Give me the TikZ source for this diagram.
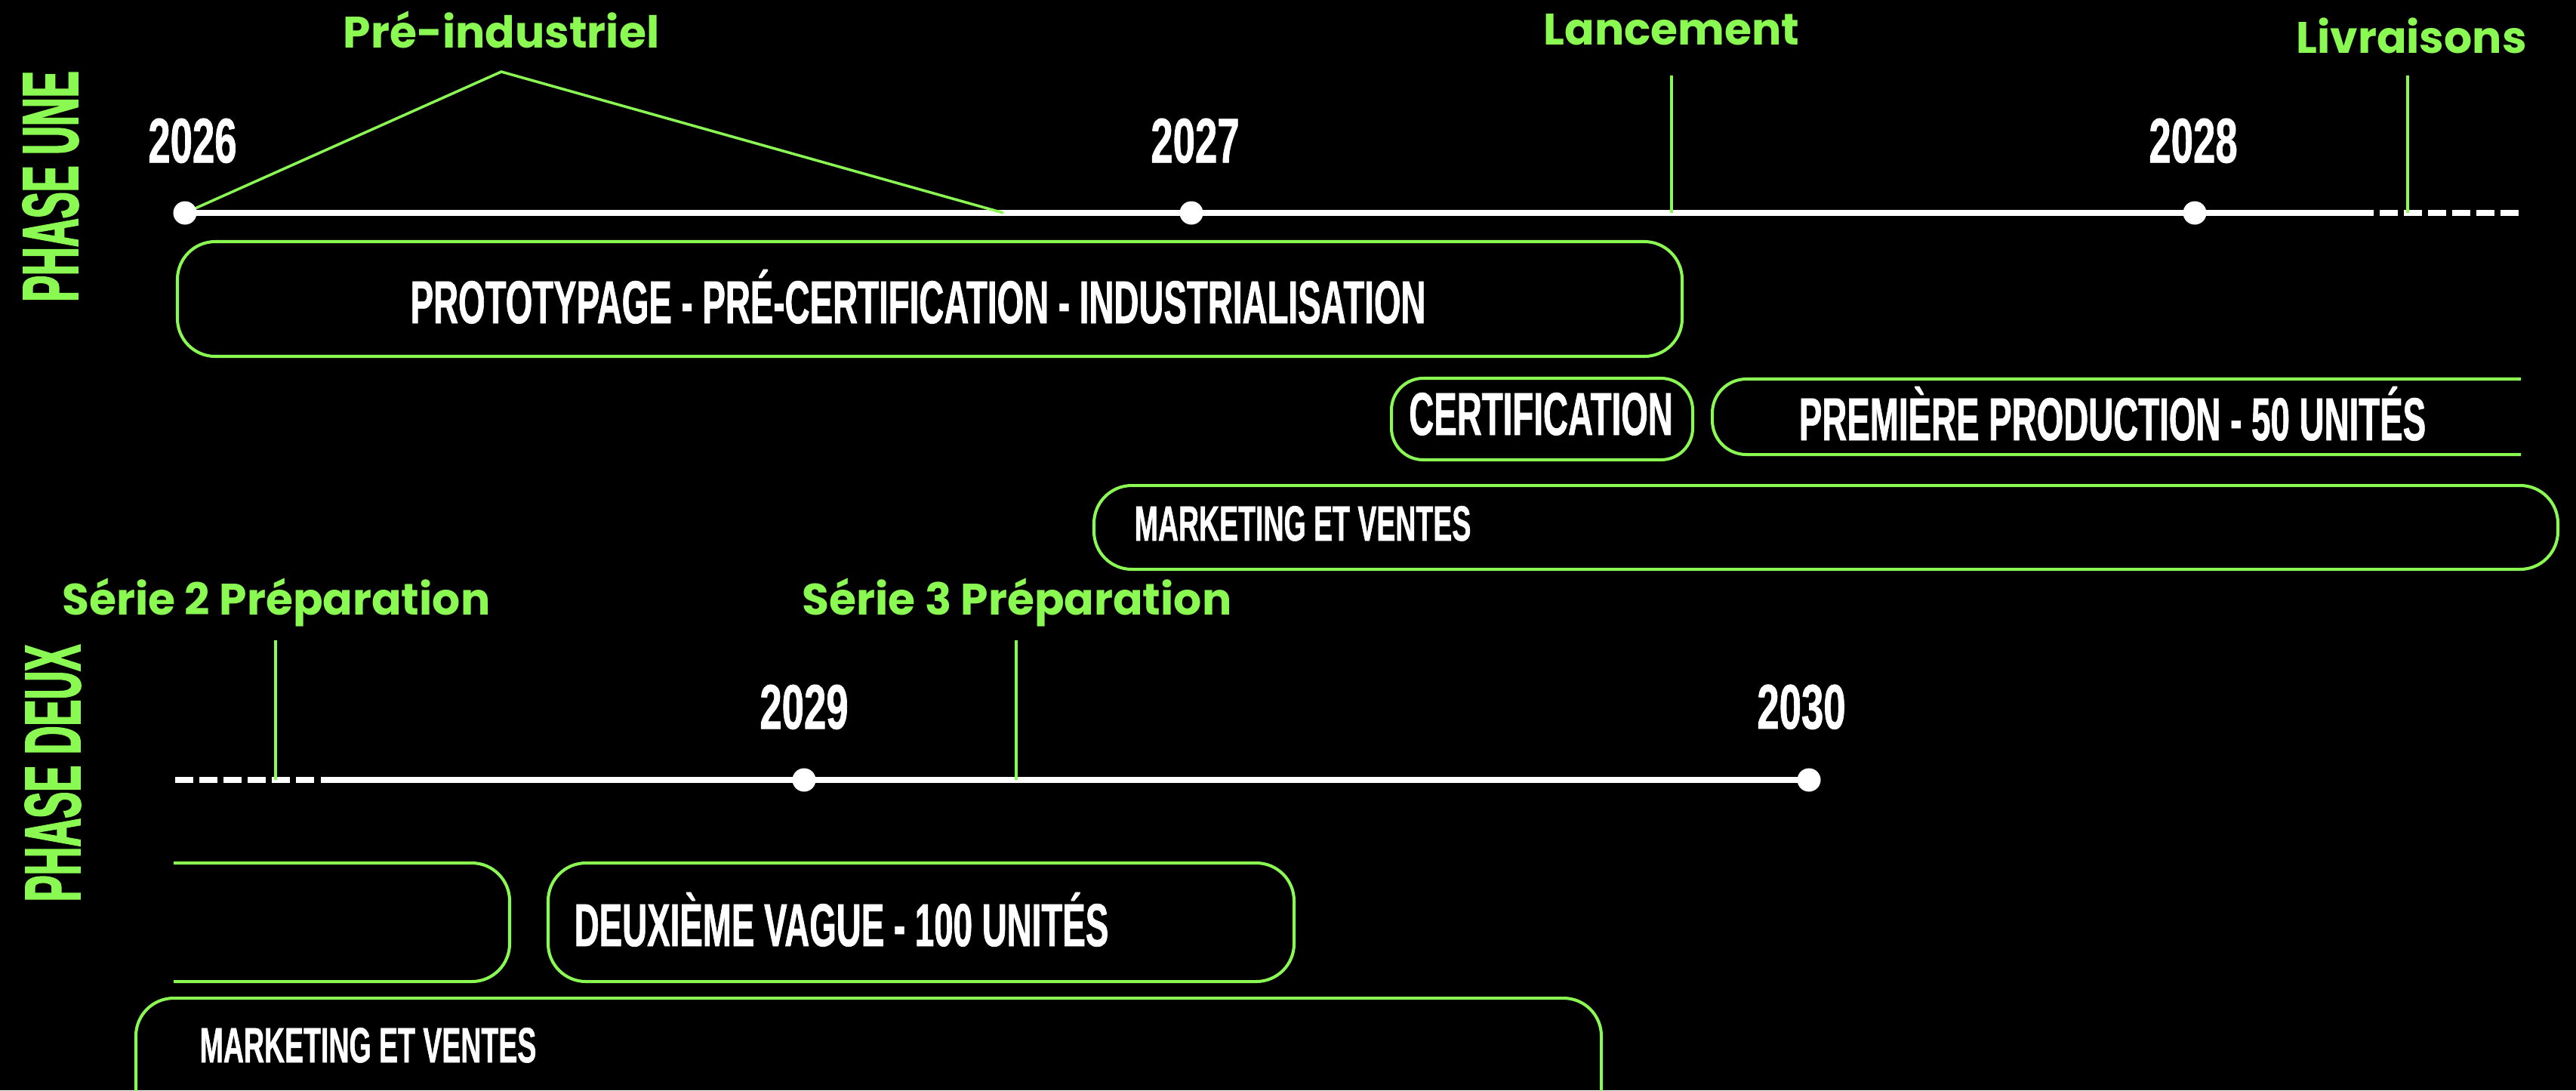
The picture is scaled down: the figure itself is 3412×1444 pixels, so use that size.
\documentclass[tikz,border=0pt]{standalone}
\usepackage{fontspec}
\usepackage{tikz}
\usetikzlibrary{positioning}
\newfontfamily\bebas[FakeStretch=0.57,FakeBold=0.8]{Liberation Sans}
\newfontfamily\bebasyear[FakeStretch=0.63,FakeBold=0.8]{Liberation Sans}
\newfontfamily\bebasphase[FakeStretch=0.5,FakeBold=1.6]{Liberation Sans}
\newfontfamily\poppins{Poppins}
\definecolor{lime}{RGB}{138,250,82}

\begin{document}
\begin{tikzpicture}[x=0.01cm, y=-0.01cm,
	axis/.style={line width=2.3pt, white},
	axisdash/.style={line width=2.3pt, white, dash pattern=on 6.83pt off 2.28pt},
	tick/.style={line width=1pt, lime},
	stage/.style={line width=1.15pt, lime, rounded corners=0.5cm},
	yeardot/.style={circle, fill=white, inner sep=0pt, minimum size=0.31cm},
	yearlbl/.style={inner sep=0pt, text=white, font=\bebasyear\bfseries\fontsize{23.8}{26}\selectfont},
	stagelbl/.style={anchor=base, inner sep=0pt, text=white, font=\bebas\bfseries\fontsize{22.8}{24}\selectfont},
	salelbl/.style={anchor=base west, inner sep=0pt, text=white, font=\bebas\bfseries\fontsize{18.7}{20}\selectfont},
	milestone/.style={anchor=base, inner sep=0pt, text=lime, font=\poppins\bfseries\fontsize{16.6}{19}\selectfont},
	phase/.style={rotate=90, inner sep=0pt, text=lime, font=\bebasphase\bfseries\fontsize{29.8}{32}\selectfont}]
	%%%%% START %%%%%
	
	\fill[black] (0,0) rectangle (3412,1444);
	\clip (0,0) rectangle (3412,1444);
	
	%%%%% PHASE UNE %%%%%
	\node[phase] (ph1) at (67,247) {PHASE UNE};
	
	\coordinate (y2026) at (245,282);
	\coordinate (y2027) at (1578,282);
	\coordinate (y2028) at (2907,282);
	\coordinate (p1end) at (3144,282);
	\coordinate (p1dash) at (3152,282);
	\coordinate (p1tip) at (3337,282);
	
	\draw[axis] (y2026) -- (y2027) -- (y2028) -- (p1end);
	\draw[axisdash] (p1dash) -- (p1tip);
	
	\node[milestone] (pre) at (664,63) {Pré-industriel};
	\coordinate (preapex) at (664,95);
	\coordinate (preend) at (1329,282);
	\draw[tick] (y2026) -- (preapex) -- (preend);
	
	\node[milestone] (lanc) at (2214,59) {Lancement};
	\coordinate (lanctop) at (2214,100);
	\draw[tick] (lanctop) -- (lanctop |- y2026);
	
	\node[milestone] (livr) at (3194,70) {Livraisons};
	\coordinate (livrtop) at (3189,100);
	\draw[tick] (livrtop) -- (livrtop |- y2026);
	
	\foreach \yr/\dx in {2026/10,2027/5,2028/-2}{
		\node[yeardot] (d\yr) at (y\yr) {};
		\node[yearlbl, above=0.49cm of d\yr, xshift=\dx*0.01cm] (l\yr) {\yr};
	}
	
	\draw[stage] (235,320) rectangle (2228,472);
	\node[stagelbl] (proto) at (1216,428) {PROTOTYPAGE - PRÉ-CERTIFICATION - INDUSTRIALISATION};
	
	\draw[stage, rounded corners=0.42cm] (1843,501) rectangle (2242,609);
	\node[stagelbl] (certif) at (2041,576) {CERTIFICATION};
	
	\draw[stage, rounded corners=0.45cm] (3339,502) -- (2268,502) -- (2268,602) -- (3339,602);
	\node[stagelbl] (prod1) at (2798,583) {PREMIÈRE PRODUCTION - 50 UNITÉS};
	
	\draw[stage] (1449,643) rectangle (3388,754);
	\node[salelbl] (sales1) at (1502,716) {MARKETING ET VENTES};
	
	%%%%% PHASE DEUX %%%%%
	\node[phase] (ph2) at (70,1024) {PHASE DEUX};
	
	\coordinate (p2dash) at (232,1033);
	\coordinate (p2gap) at (417,1033);
	\coordinate (p2start) at (425,1033);
	\coordinate (y2029) at (1065,1033);
	\coordinate (y2030) at (2396,1033);
	
	\draw[axisdash] (p2dash) -- (p2gap);
	\draw[axis] (p2start) -- (y2029) -- (y2030);
	
	\node[milestone] (serie2) at (366,814) {Série 2 Préparation};
	\coordinate (s2top) at (365,848);
	\draw[tick] (s2top) -- (s2top |- y2029);
	
	\node[milestone] (serie3) at (1347,814) {Série 3 Préparation};
	\coordinate (s3top) at (1346,848);
	\draw[tick] (s3top) -- (s3top |- y2029);
	
	\foreach \yr/\dx in {2029/0,2030/-10}{
		\node[yeardot] (d\yr) at (y\yr) {};
		\node[yearlbl, above=0.5cm of d\yr, xshift=\dx*0.01cm] (l\yr) {\yr};
	}
	
	\draw[stage] (230,1143) -- (675,1143) -- (675,1300) -- (230,1300);
	
	\draw[stage] (726,1143) rectangle (1714,1300);
	\node[stagelbl, anchor=base west] (prod2) at (760,1253) {DEUXIÈME VAGUE - 100 UNITÉS};
	
	\draw[stage] (180,1322) rectangle (2121,1560);
	\node[salelbl] (sales2) at (264,1407) {MARKETING ET VENTES};
	
	%%%%% END %%%%%
\end{tikzpicture}
\end{document}
